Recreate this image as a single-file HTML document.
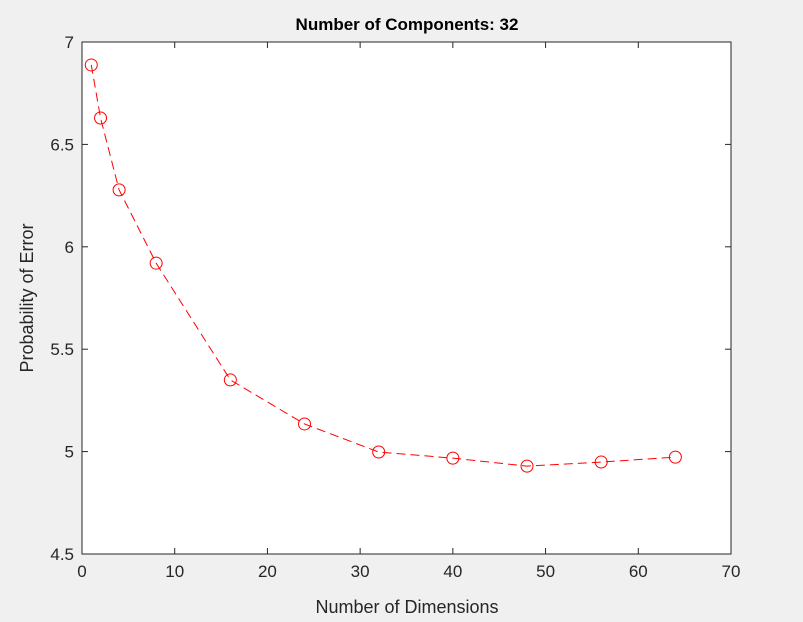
<!DOCTYPE html>
<html><head><meta charset="utf-8"><style>
body{margin:0;background:#f0f0f0;}
svg{display:block;font-family:"Liberation Sans",Arial,sans-serif;}
</style></head><body>
<svg id="chart" width="803" height="622">
<rect x="0" y="0" width="803" height="622" fill="#f0f0f0"/>
<rect x="82" y="42" width="649" height="512" fill="#fff"/>
<g id="grid"></g>
<g id="series"></g>
<rect x="82" y="42" width="649" height="512" fill="none" stroke="#262626" stroke-width="1"/>
<text x="407" y="30" text-anchor="middle" font-size="17" font-weight="bold" fill="#000">Number of Components: 32</text>
<text x="407" y="613" text-anchor="middle" font-size="18" fill="#262626">Number of Dimensions</text>
<text transform="translate(33,298) rotate(-90)" text-anchor="middle" font-size="18" fill="#262626">Probability of Error</text>
</svg>
<script>
const xVals=[1,2,4,8,16,24,32,40,48,56,64];
const yVals=[6.888,6.629,6.278,5.92,5.35,5.135,4.998,4.968,4.929,4.949,4.973];
const xTicks=[0,10,20,30,40,50,60,70];
const yTicks=[4.5,5,5.5,6,6.5,7];
const yTickLabels=["4.5","5","5.5","6","6.5","7"];
const L=82,R=731,T=42,B=554,xMin=0,xMax=70,yMin=4.5,yMax=7;
function sx(v){return L+(v-xMin)/(xMax-xMin)*(R-L);}
function sy(v){return B-(v-yMin)/(yMax-yMin)*(B-T);}
const NS="http://www.w3.org/2000/svg";
const g=document.getElementById('grid'),s=document.getElementById('series');
function mk(tag,attrs,parent){const e=document.createElementNS(NS,tag);for(const k in attrs)e.setAttribute(k,attrs[k]);parent.appendChild(e);return e;}
xTicks.forEach(v=>{
 const x=sx(v);
 const t1=mk('line',{x1:x,x2:x,y1:B,y2:B-6,stroke:'#262626'},g);
 
 
 const t2=mk('line',{x1:x,x2:x,y1:T,y2:T+6,stroke:'#262626'},g);
 
 
 const tx=mk('text',{x:x,y:B+23,'text-anchor':'middle','font-size':17,fill:'#262626'},g);
 tx.textContent=String(v);
 
 
});
yTicks.forEach((v,i)=>{
 const y=sy(v);
 const t1=mk('line',{x1:L,x2:L+6,y1:y,y2:y,stroke:'#262626'},g);
 
 
 const t2=mk('line',{x1:R,x2:R-6,y1:y,y2:y,stroke:'#262626'},g);
 
 
 const tx=mk('text',{x:L-8,y:y+6,'text-anchor':'end','font-size':17,fill:'#262626'},g);
 tx.textContent=yTickLabels[i];
 
 
});
const pts=xVals.map((x,i)=>sx(x)+','+sy(yVals[i])).join(' ');
const pl=mk('polyline',{points:pts,fill:'none',stroke:'#ff0000','stroke-width':1,'stroke-dasharray':'9,5'},s);


xVals.forEach((x,i)=>{
 const c=mk('circle',{cx:sx(x),cy:sy(yVals[i]),r:6,fill:'none',stroke:'#ff0000','stroke-width':1},s);
 
 
});
</script>
</body></html>
